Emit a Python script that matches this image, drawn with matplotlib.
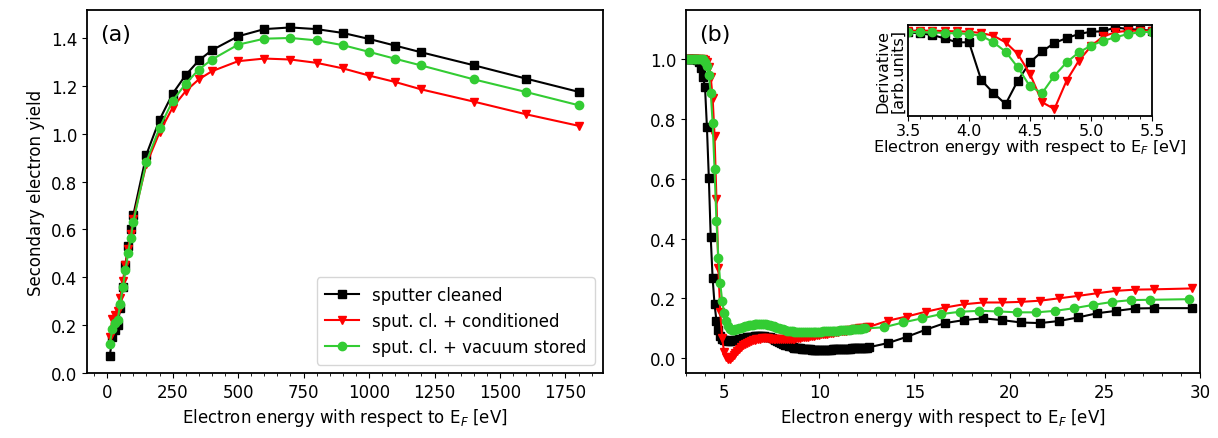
""" SEY plot: (a) full energy range, (b) low energy region with derivative inset
"""
import matplotlib
matplotlib.use("Agg")
import matplotlib.pyplot as plt
import numpy as np
from matplotlib.ticker import MultipleLocator

# ---- panel (a) data ----
energia_a = [10, 20, 30, 40, 50, 60, 70, 80, 90, 100, 150, 200, 250, 300, 350,
             400, 500, 600, 700, 800, 900, 1000, 1100, 1200, 1400, 1600, 1800]
sey_limpo = [0.07, 0.15, 0.18, 0.20, 0.27, 0.36, 0.45, 0.53, 0.60, 0.66, 0.913,
             1.058, 1.167, 1.245, 1.306, 1.349, 1.407, 1.437, 1.444, 1.437, 1.421,
             1.396, 1.368, 1.340, 1.286, 1.230, 1.175]
sey_cond = [0.152, 0.226, 0.243, 0.260, 0.315, 0.384, 0.450, 0.520, 0.582, 0.645,
            0.873, 1.005, 1.109, 1.178, 1.227, 1.261, 1.303, 1.314, 1.310, 1.296,
            1.273, 1.243, 1.216, 1.185, 1.134, 1.081, 1.033]
sey_vacuo = [0.122, 0.183, 0.208, 0.222, 0.287, 0.360, 0.430, 0.500, 0.564, 0.631,
             0.883, 1.024, 1.137, 1.209, 1.268, 1.310, 1.372, 1.397, 1.400, 1.390,
             1.370, 1.342, 1.313, 1.285, 1.227, 1.174, 1.119]

# ---- panel (b) data: fine scan (0.1 eV) then coarse scan (1 eV) ----
fino_preto = np.round(np.arange(3.0, 12.65, 0.1), 1)
fino_verde = np.round(np.arange(3.0, 12.45, 0.1), 1)
grosso_preto = [13.6, 14.6, 15.6, 16.6, 17.6, 18.6, 19.6, 20.6, 21.6, 22.6,
                23.6, 24.6, 25.6, 26.6, 27.6, 29.6]
grosso_verde = [13.4, 14.4, 15.4, 16.4, 17.4, 18.4, 19.4, 20.4, 21.4, 22.4,
                23.4, 24.4, 25.4, 26.4, 27.4, 29.4]

b_limpo = [1.0, 1.0, 1.0, 1.0, 1.0, 1.0,
           0.998, 0.991, 0.971, 0.939, 0.907, 0.773, 0.604, 0.404, 0.267, 0.18,
           0.125, 0.093, 0.073, 0.063, 0.06,
           0.059, 0.058, 0.058, 0.058, 0.059, 0.06, 0.061, 0.063, 0.064, 0.066,
           0.067, 0.069, 0.07, 0.071, 0.072, 0.073, 0.073, 0.074, 0.074, 0.074,
           0.073, 0.072, 0.071, 0.069, 0.067, 0.064, 0.061, 0.058, 0.054, 0.051,
           0.048, 0.045, 0.043, 0.041, 0.039, 0.037, 0.035, 0.034, 0.033, 0.032,
           0.031, 0.03, 0.03, 0.029, 0.029, 0.028, 0.028, 0.028, 0.028, 0.028,
           0.028, 0.028, 0.028, 0.028, 0.028, 0.028, 0.029, 0.029, 0.029, 0.029,
           0.03, 0.03, 0.03, 0.031, 0.031, 0.031, 0.032, 0.032, 0.032, 0.033,
           0.033, 0.034, 0.034, 0.035, 0.035, 0.036,
           0.05, 0.071, 0.095, 0.117, 0.127, 0.133, 0.127, 0.119, 0.117, 0.124,
           0.136, 0.15, 0.158, 0.166, 0.167, 0.167]
b_cond = [1.0, 1.0, 1.0, 1.0, 1.0, 1.0, 1.0, 1.0, 1.0, 1.0,
          0.997, 0.99, 0.975, 0.941, 0.872, 0.744, 0.533, 0.302, 0.155, 0.067,
          0.021, 0.004, -0.004, -0.002, 0.004, 0.011, 0.018, 0.025, 0.031, 0.037,
          0.042,
          0.046, 0.05, 0.053, 0.056, 0.059, 0.061, 0.063, 0.064, 0.065, 0.066,
          0.066, 0.066, 0.066, 0.065, 0.065, 0.064, 0.064, 0.063, 0.063, 0.063,
          0.063, 0.063, 0.063, 0.064, 0.064, 0.065, 0.065, 0.066, 0.067, 0.068,
          0.069, 0.07, 0.071, 0.072, 0.073, 0.074, 0.075, 0.076, 0.077, 0.078,
          0.079, 0.08, 0.081, 0.082, 0.083, 0.084, 0.085, 0.086, 0.087, 0.088,
          0.089, 0.09, 0.091, 0.092, 0.093, 0.094, 0.095, 0.096, 0.097, 0.098,
          0.099, 0.1, 0.101, 0.102, 0.103, 0.104,
          0.125, 0.139, 0.155, 0.169, 0.18, 0.186, 0.186, 0.188, 0.192, 0.2,
          0.208, 0.217, 0.225, 0.229, 0.23, 0.233]
b_vacuo = [1.0, 1.0, 1.0, 1.0, 1.0, 1.0, 1.0, 1.0, 1.0, 1.0,
           0.99, 0.976, 0.946, 0.888, 0.788, 0.633, 0.46, 0.336, 0.25, 0.192,
           0.152, 0.124, 0.106, 0.098, 0.095, 0.095, 0.096, 0.098, 0.1, 0.102,
           0.104,
           0.106, 0.108, 0.109, 0.111, 0.112, 0.113, 0.114, 0.115, 0.115, 0.115,
           0.114, 0.113, 0.112, 0.11, 0.108, 0.106, 0.104, 0.102, 0.1, 0.098,
           0.096, 0.094, 0.092, 0.091, 0.09, 0.089, 0.088, 0.087, 0.086, 0.086,
           0.086, 0.086, 0.086, 0.086, 0.086, 0.087, 0.087, 0.087, 0.088, 0.088,
           0.088, 0.089, 0.089, 0.09, 0.09, 0.09, 0.091, 0.091, 0.092, 0.092,
           0.093, 0.093, 0.094, 0.094, 0.095, 0.095, 0.096, 0.096, 0.097, 0.097,
           0.098, 0.098, 0.099, 0.099,
           0.103, 0.119, 0.133, 0.147, 0.155, 0.158, 0.156, 0.153, 0.153, 0.158,
           0.167, 0.178, 0.188, 0.194, 0.195, 0.197]

# ---- inset data (derivative, arb. units) ----
energia_ins = [3.5, 3.6, 3.7, 3.8, 3.9, 4.0, 4.1, 4.2, 4.3, 4.4, 4.5, 4.6, 4.7,
               4.8, 4.9, 5.0, 5.1, 5.2, 5.3, 5.4, 5.5]
der_limpo = [0.916, 0.905, 0.886, 0.85, 0.806, 0.806, 0.392, 0.249, 0.128, 0.385,
             0.586, 0.707, 0.799, 0.853, 0.897, 0.923, 0.927, 0.971, 0.952, 0.945,
             0.934]
der_cond = [0.934, 0.934, 0.934, 0.930, 0.927, 0.923, 0.908, 0.879, 0.806, 0.678,
            0.458, 0.147, 0.073, 0.385, 0.604, 0.762, 0.872, 0.916, 0.934, 0.934,
            0.934]
der_vacuo = [0.923, 0.916, 0.916, 0.908, 0.905, 0.897, 0.879, 0.806, 0.703, 0.531,
             0.322, 0.249, 0.440, 0.586, 0.696, 0.769, 0.824, 0.861, 0.897, 0.916,
             0.923]

legendas = ["sputter cleaned", "sput. cl. + conditioned", "sput. cl. + vacuum stored"]
cores = ["black", "red", "#33cc33"]
marcadores = ["s", "v", "o"]
xlabel = "Electron energy with respect to E$_F$ [eV]"

plt.rcParams["font.size"] = 12
plt.rcParams["axes.linewidth"] = 1.3

fig = plt.figure(figsize=(12.18, 4.39), dpi=100)
ax1 = fig.add_axes([0.0714, 0.1481, 0.4236, 0.8269])
ax2 = fig.add_axes([0.5632, 0.1481, 0.422, 0.8269])
ins = fig.add_axes([0.7455, 0.7342, 0.2003, 0.2073])

# (a)
for dados, cor, m, lab in zip([sey_limpo, sey_cond, sey_vacuo], cores, marcadores, legendas):
    ax1.plot(energia_a, dados, color=cor, marker=m, markersize=6, lw=1.5, label=lab)
ax1.set_xlim(-77, 1893)
ax1.set_ylim(0, 1.517)
ax1.xaxis.set_major_locator(MultipleLocator(250))
ax1.xaxis.set_minor_locator(MultipleLocator(50))
ax1.yaxis.set_major_locator(MultipleLocator(0.2))
ax1.set_xlabel(xlabel)
ax1.set_ylabel("Secondary electron yield")
ax1.text(0.025, 0.96, "(a)", transform=ax1.transAxes, fontsize=16, va="top")
ax1.legend(loc="lower right", fontsize=12, handlelength=2.0, borderpad=0.5,
           edgecolor="0.8", fancybox=True)

# (b)
series_b = [(list(fino_preto) + grosso_preto, b_limpo),
            (list(fino_preto) + grosso_preto, b_cond),
            (list(fino_verde) + grosso_verde, b_vacuo)]
for (xs, ys), cor, m in zip(series_b, cores, marcadores):
    ax2.plot(xs, ys, color=cor, marker=m, markersize=6, lw=1.5)
ax2.set_xlim(3, 30)
ax2.set_ylim(-0.05, 1.165)
ax2.xaxis.set_major_locator(MultipleLocator(5))
ax2.xaxis.set_minor_locator(MultipleLocator(1))
ax2.yaxis.set_major_locator(MultipleLocator(0.2))
ax2.set_xlabel(xlabel)
ax2.text(0.025, 0.96, "(b)", transform=ax2.transAxes, fontsize=16, va="top")

# inset
for dados, cor, m in zip([der_limpo, der_cond, der_vacuo], cores, marcadores):
    ins.plot(energia_ins, dados, color=cor, marker=m, markersize=6, lw=1.5)
ins.set_xlim(3.5, 5.5)
ins.set_ylim(0, 1.0)
ins.set_yticks([])
ins.xaxis.set_major_locator(MultipleLocator(0.5))
ins.xaxis.set_minor_locator(MultipleLocator(0.1))
ins.tick_params(labelsize=11.5, pad=2)
ins.set_xlabel(xlabel, fontsize=11.5, labelpad=-1)
ins.set_ylabel("Derivative\n[arb.units]", fontsize=11.5, labelpad=2, linespacing=0.95)

plt.savefig("out.png", dpi=100)
